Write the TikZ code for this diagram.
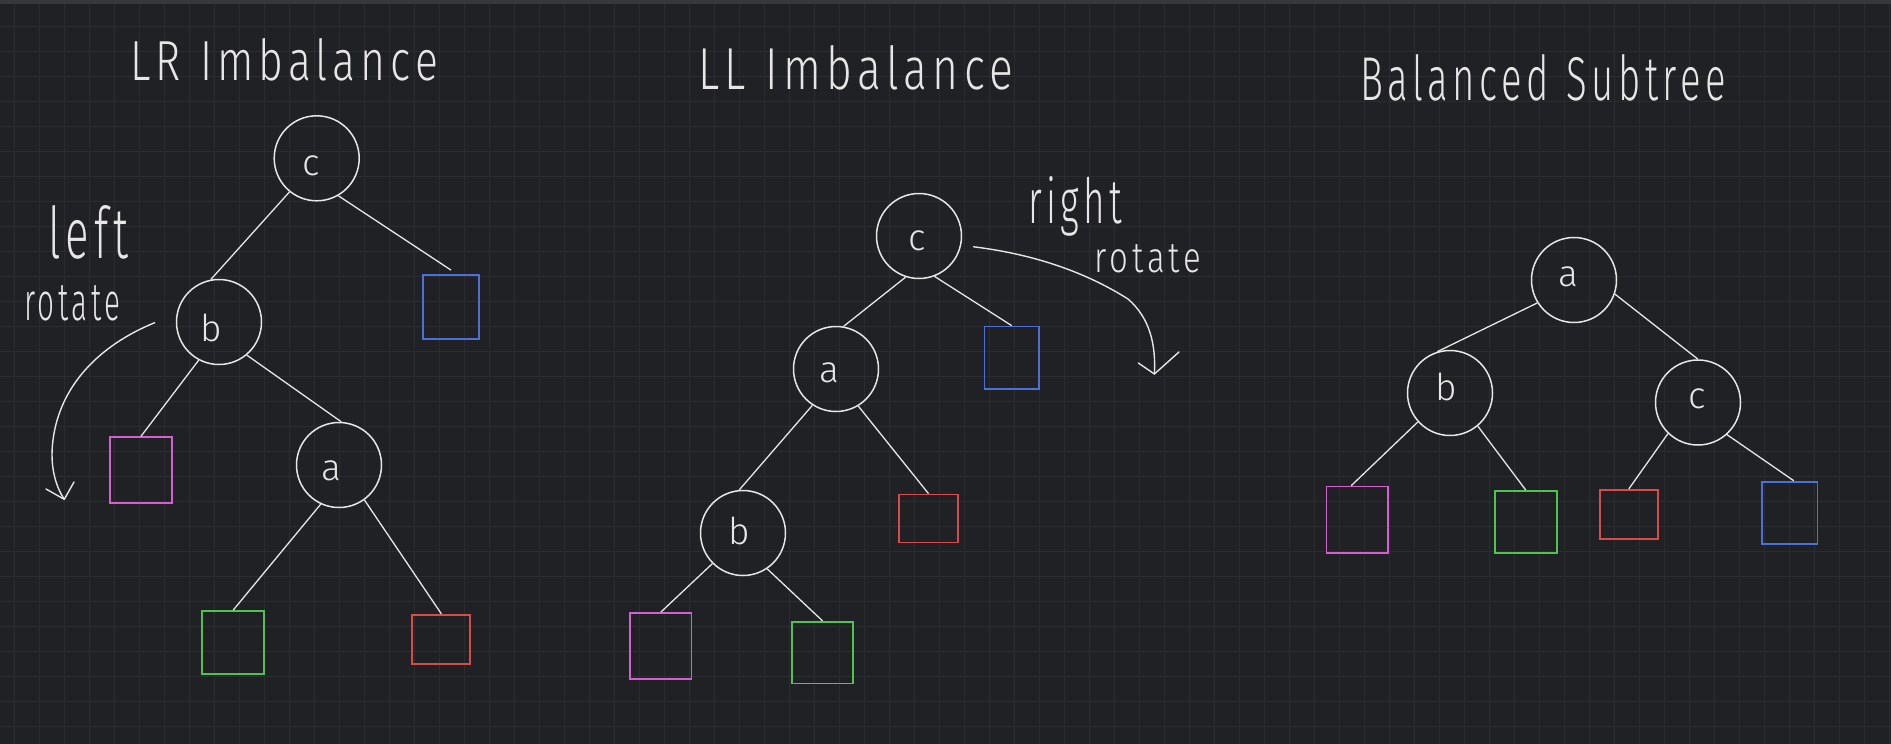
\documentclass[tikz,border=0pt]{standalone}
\usepackage{fontspec}
\setmainfont{Fira Sans Light}
\usepackage{graphicx}
\definecolor{bg}{HTML}{202125}
\definecolor{gridc}{HTML}{2B2C30}
\definecolor{topbar}{HTML}{37383C}
\definecolor{ink}{HTML}{E6E6E6}
\definecolor{cpink}{HTML}{D45FCE}
\definecolor{cgreen}{HTML}{4FC24F}
\definecolor{cred}{HTML}{D94A4A}
\definecolor{cblue}{HTML}{4C6FD8}
\newcommand{\hw}[3]{\resizebox{#1}{#2}{\addfontfeature{LetterSpace=12}#3}}
\tikzset{
  circ/.style={circle, draw=ink, line width=1.5pt, minimum size=85pt, inner sep=0pt},
  lab/.style={inner sep=0pt, text=ink, font=\fontsize{37}{37}\selectfont},
  leaf/.style={rectangle, line width=1.8pt, inner sep=0pt},
  edge/.style={draw=ink, line width=1.3pt},
  hand/.style={inner sep=0pt, text=ink, anchor=base west},
  rot/.style={draw=ink, line width=1.4pt, line cap=round, line join=round}
}
\begin{document}
\begin{tikzpicture}[x=1pt,y=-1pt]
\useasboundingbox (0,0) rectangle (1891,744);
\fill[bg] (0,0) rectangle (1891,744);
\foreach \gx in {0,...,75} {\draw[gridc, line width=0.9pt] ({14.3+25*\gx},0) -- ({14.3+25*\gx},744);}
\foreach \gy in {0,...,29} {\draw[gridc, line width=0.9pt] (0,{26.7+25*\gy}) -- (1891,{26.7+25*\gy});}
\fill[topbar] (0,0) rectangle (1891,3.7);

% ---------- LR Imbalance ----------
\node[hand] (t1) at (130,80) {\hw{308pt}{42pt}{LR\hspace{0.45em}Imbalance}};
\node[circ, label={[lab, xshift=-6pt, yshift=-8pt]center:c}] (lrc) at (316.7,158.3) {};
\node[circ, label={[lab, xshift=-8pt, yshift=-6pt]center:b}] (lrb) at (219,322) {};
\node[circ, label={[lab, xshift=-8pt, yshift=-6pt]center:a}] (lra) at (339,465) {};
\node[leaf, draw=cblue, minimum width=56pt, minimum height=64pt] (lrblue) at (451,307) {};
\node[leaf, draw=cpink, minimum width=61.7pt, minimum height=66pt] (lrpink) at (140.9,470.3) {};
\node[leaf, draw=cgreen, minimum width=61.7pt, minimum height=63pt] (lrgreen) at (233.2,642.5) {};
\node[leaf, draw=cred, minimum width=58pt, minimum height=49pt] (lrred) at (441.3,639.2) {};
\draw[edge] (lrc.231) -- (lrb.101);
\draw[edge] (lrc.300) -- ([yshift=4pt]lrblue.north);
\draw[edge] (lrb.242) -- (lrpink.north);
\draw[edge] (lrb.310) -- (lra.87);
\draw[edge] (lra.245) -- (lrgreen.north);
\draw[edge] (lra.306) -- (lrred.north);
\node[hand] (lleft) at (48,258.7) {\hw{80.6pt}{53pt}{left}};
\node[hand] (lrot) at (24,320) {\hw{96.5pt}{35pt}{rotate}};
\coordinate (la1) at (154.7,322.7);
\coordinate (la2) at (53,440);
\coordinate (la3) at (64.3,499.3);
\coordinate (lh1) at (46,489);
\coordinate (lh2) at (74,482);
\draw[rot] (la1) .. controls (100,345) and (60,385) .. (la2) .. controls (49,470) and (58,490) .. (la3);
\draw[rot] (lh1) -- (la3) -- (lh2);

% ---------- LL Imbalance ----------
\node[hand] (t2) at (698,89) {\hw{315pt}{44pt}{LL\hspace{0.45em}Imbalance}};
\node[circ, label={[lab, xshift=-2pt, yshift=-5pt]center:c}] (llc) at (919,236) {};
\node[circ, label={[lab, xshift=-7pt, yshift=-4pt]center:a}] (lla) at (836,369) {};
\node[circ, label={[lab, xshift=-4pt, yshift=2pt]center:b}] (llb) at (743,533) {};
\node[leaf, draw=cblue, minimum width=54.6pt, minimum height=62.5pt] (llblue) at (1011.7,357.8) {};
\node[leaf, draw=cred, minimum width=59pt, minimum height=48pt] (llred) at (928.5,518.5) {};
\node[leaf, draw=cpink, minimum width=61.5pt, minimum height=65.7pt] (llpink) at (660.8,645.9) {};
\node[leaf, draw=cgreen, minimum width=61pt, minimum height=61.7pt] (llgreen) at (822.5,652.6) {};
\draw[edge] (llc.252) -- (lla.80);
\draw[edge] (llc.291) -- (llblue.north);
\draw[edge] (lla.237) -- (llb.95);
\draw[edge] (lla.301) -- (llred.north);
\draw[edge] (llb.225) -- (llpink.north);
\draw[edge] (llb.304) -- (llgreen.north);
\node[hand] (rright) at (1027.8,223) {\hw{94pt}{47pt}{right}};
\node[hand] (rrot) at (1094,272) {\hw{107pt}{28pt}{rotate}};
\coordinate (ra1) at (973.6,246.8);
\coordinate (ra2) at (1128,299);
\coordinate (ra3) at (1154.4,374);
\coordinate (rh1) at (1138.3,363);
\coordinate (rh2) at (1179,352);
\draw[rot] (ra1) .. controls (1040,255) and (1090,275) .. (ra2) .. controls (1150,318) and (1156,345) .. (ra3);
\draw[rot] (rh1) -- (ra3) -- (rh2);

% ---------- Balanced Subtree ----------
\node[hand] (t3) at (1360,100.6) {\hw{366pt}{46pt}{Balanced\hspace{0.45em}Subtree}};
\node[circ, label={[lab, xshift=-6pt, yshift=3pt]center:a}] (ba) at (1574,280) {};
\node[circ, label={[lab, xshift=-4pt, yshift=6pt]center:b}] (bb) at (1450,393) {};
\node[circ, label={[lab, xshift=-1pt, yshift=4pt]center:c}] (bc) at (1698,402.5) {};
\node[leaf, draw=cpink, minimum width=61.3pt, minimum height=66.5pt] (bpink) at (1357.2,519.8) {};
\node[leaf, draw=cgreen, minimum width=61.6pt, minimum height=62pt] (bgreen) at (1525.8,522) {};
\node[leaf, draw=cred, minimum width=58.4pt, minimum height=48.9pt] (bred) at (1628.8,514.3) {};
\node[leaf, draw=cblue, minimum width=55.5pt, minimum height=62.7pt] (bblue) at (1789.8,513) {};
\draw[edge] (ba.212) -- (bb.107);
\draw[edge] (ba.341) -- (bc.90);
\draw[edge] (bb.222) -- ([xshift=-6pt]bpink.north);
\draw[edge] (bb.310) -- (bgreen.north);
\draw[edge] (bc.226) -- (bred.north);
\draw[edge] (bc.312) -- ([xshift=4pt]bblue.north);
\end{tikzpicture}
\end{document}
